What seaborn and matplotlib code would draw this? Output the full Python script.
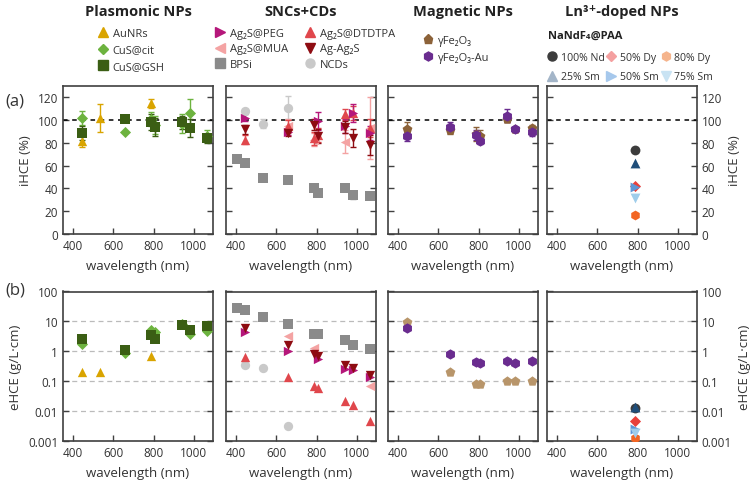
import matplotlib
matplotlib.use("Agg")
import pandas as pd
import matplotlib.pyplot as plt
from matplotlib.lines import Line2D
import seaborn as sns

# ---- values ----
# Plasmonic NPs
aunr_wl = [445, 532, 785]
aunr_ihce = [82, 102, 115]
aunr_err = [6, 12, 4]
aunr_ehce = [0.2, 0.2, 0.69]

cuscit_wl = [445, 660, 785, 808, 940, 980, 1064]
cuscit_ihce = [102, 90, 101, 96, 97, 106, 86]
cuscit_err = [6, 0, 6, 8, 8, 13, 5]
cuscit_ehce = [1.7, 0.9, 5.0, 4.3, 8.5, 3.7, 4.8]

cusgsh_wl = [445, 660, 785, 808, 940, 980, 1064]
cusgsh_ihce = [89, 101, 98, 94, 98, 93, 84]
cusgsh_err = [6, 0, 7, 8, 6, 8, 4]
cusgsh_ehce = [2.5, 1.1, 3.6, 2.6, 7.6, 5.0, 7.2]

# SNCs + CDs
peg_wl = [445, 660, 808, 940, 980, 1064]
peg_ihce = [102, 90, 99, 95, 106, 89]
peg_err = [3, 3, 8, 6, 8, 6]
peg_ehce = [4.4, 1.0, 0.54, 0.26, 0.23, 0.14]

mua_wl = [660, 785, 940, 1064]
mua_ihce = [95, 83, 81, 93]
mua_err = [6, 6, 10, 27]
mua_wl_b = [660, 785, 1064]
mua_ehce = [3.2, 1.3, 0.069]

dtdtpa_wl = [445, 660, 785, 808, 940, 980, 1064]
dtdtpa_ihce = [83, 95, 84, 87, 105, 106, 93]
dtdtpa_err = [4, 5, 6, 6, 5, 6, 8]
dtdtpa_ehce = [0.64, 0.14, 0.07, 0.06, 0.021, 0.016, 0.0045]

agag2s_wl = [445, 660, 785, 808, 940, 980, 1064]
agag2s_ihce = [92, 89, 96, 86, 94, 84, 78]
agag2s_err = [4, 3, 5, 6, 5, 8, 9]
agag2s_ehce = [6.0, 1.66, 0.8, 0.72, 0.34, 0.28, 0.16]

bpsi_wl = [405, 445, 532, 660, 785, 808, 940, 980, 1064]
bpsi_ihce = [66, 62, 49, 47, 40, 36, 40, 34, 33]
bpsi_err = [0, 0, 1, 0, 1, 1, 1, 3, 0]
bpsi_ehce = [29, 23.5, 14, 8.4, 3.9, 3.8, 2.45, 1.67, 1.22]

ncd_wl = [445, 532, 660]
ncd_ihce = [108, 97, 111]
ncd_err = [2, 4, 10]
ncd_ehce = [0.355, 0.275, 0.0032]

# Magnetic NPs
fe_wl = [445, 660, 785, 808, 940, 980, 1064]
fe_ihce = [92, 91, 88, 86, 101, 92, 93]
fe_err = [6, 3, 6, 5, 3, 2, 3]
fe_ehce = [9.5, 0.21, 0.081, 0.082, 0.098, 0.098, 0.1]

feau_wl = [445, 660, 785, 808, 940, 980, 1064]
feau_ihce = [86, 94, 87, 82, 104, 92, 90]
feau_err = [4, 4, 4, 3, 6, 2, 4]
feau_ehce = [6.2, 0.83, 0.44, 0.41, 0.47, 0.42, 0.47]

# Ln3+-doped NPs (NaNdF4@PAA), all at one wavelength
ln_labels = ["100% Nd", "50% Dy", "80% Dy", "25% Sm", "50% Sm", "75% Sm"]
ln_wl = 785
ln_ihce = [74, 42, 17, 62, 41, 32]
ln_ehce = [0.013, 0.0045, 0.0013, 0.0135, 0.0025, 0.0019]

titles = ["Plasmonic NPs", "SNCs+CDs", "Magnetic NPs", "Ln³⁺-doped NPs"]
xticks = [400, 600, 800, 1000]
log_ticks = [0.001, 0.01, 0.1, 1, 10, 100]
log_labels = ["0.001", "0.01", "0.1", "1", "10", "100"]

# ---- style ----
sns.set_style("ticks")
plt.rcParams["font.family"] = ["Open Sans", "DejaVu Sans"]
plt.rcParams["text.color"] = "#333333"
plt.rcParams["axes.labelcolor"] = "#333333"

fig = plt.figure(figsize=(7.5, 4.85), dpi=100)
lefts = [63, 226, 388, 547]
axes_a, axes_b = [], []
for l in lefts:
    axes_a.append(fig.add_axes([l / 750, 250 / 485, 150 / 750, 148 / 485]))
    axes_b.append(fig.add_axes([l / 750, 43 / 485, 150 / 750, 149.5 / 485]))


def series(col, label, wl, ihce, err, ehce, marker, color, size=45,
           wl_b=None, color_b=None):
    ax_a, ax_b = axes_a[col], axes_b[col]
    ax_a.errorbar(wl, ihce, yerr=err, fmt="none", ecolor=color,
                  elinewidth=1, capsize=2.5, capthick=1, zorder=2)
    sns.scatterplot(x=wl, y=ihce, ax=ax_a, marker=marker, color=color,
                    s=size, linewidth=0, zorder=3, legend=False)
    sns.scatterplot(x=wl if wl_b is None else wl_b, y=ehce, ax=ax_b,
                    marker=marker, color=color if color_b is None else color_b,
                    s=size, linewidth=0, zorder=3, legend=False)
    return Line2D([], [], ls="none", marker=marker, color=color,
                  markersize=6.5 if marker != "D" else 5.5, label=label)


h1 = [
    series(0, "AuNRs", aunr_wl, aunr_ihce, aunr_err, aunr_ehce, "^", "#D9A400"),
    series(0, "CuS@cit", cuscit_wl, cuscit_ihce, cuscit_err, cuscit_ehce, "D", "#6DB33F", 32),
    series(0, "CuS@GSH", cusgsh_wl, cusgsh_ihce, cusgsh_err, cusgsh_ehce, "s", "#3B5E14", 42),
]

h_bpsi = series(1, "BPSi", bpsi_wl, bpsi_ihce, bpsi_err, bpsi_ehce, "s", "#8A8A8A", 42)
h_ncd = series(1, "NCDs", ncd_wl, ncd_ihce, ncd_err, ncd_ehce, "o", "#C9C9C9")
h_mua = series(1, "Ag₂S@MUA", mua_wl, mua_ihce, mua_err, mua_ehce, "<", "#F4A3A3",
               wl_b=mua_wl_b)
h_dtd = series(1, "Ag₂S@DTDTPA", dtdtpa_wl, dtdtpa_ihce, dtdtpa_err, dtdtpa_ehce, "^", "#E0474C")
h_peg = series(1, "Ag₂S@PEG", peg_wl, peg_ihce, peg_err, peg_ehce, ">", "#B5177A")
h_ag = series(1, "Ag-Ag₂S", agag2s_wl, agag2s_ihce, agag2s_err, agag2s_ehce, "v", "#8E0C12")
h2 = [h_peg, h_mua, h_bpsi, h_dtd, h_ag, h_ncd]

h3 = [
    series(2, "γFe₂O₃", fe_wl, fe_ihce, fe_err, fe_ehce, "p", "#8C6239", 55,
           color_b="#B8956A"),
    series(2, "γFe₂O₃-Au", feau_wl, feau_ihce, feau_err, feau_ehce, "h", "#6A2C8F", 55),
]

ln_markers = ["o", "D", "h", "^", ">", "v"]
ln_colors = ["#3C3C3C", "#E8413C", "#F26522", "#1F4E7A", "#5C95D6", "#9FCDEB"]
ln_legend_colors = ["#3C3C3C", "#F4A0A0", "#F5B48C", "#A3B5C8", "#A6C8EC", "#C9E3F3"]
ln_df = pd.DataFrame({"label": ln_labels, "wl": ln_wl,
                      "ihce": ln_ihce, "ehce": ln_ehce})
h4 = {}
for lab, m, c, lc in zip(ln_labels, ln_markers, ln_colors, ln_legend_colors):
    sub = ln_df[ln_df["label"] == lab]
    sz = 32 if m == "D" else 50
    sns.scatterplot(data=sub, x="wl", y="ihce", ax=axes_a[3], marker=m,
                    color=c, s=sz, linewidth=0, zorder=3, legend=False)
    sns.scatterplot(data=sub, x="wl", y="ehce", ax=axes_b[3], marker=m,
                    color=c, s=sz, linewidth=0, zorder=3, legend=False)
    h4[lab] = Line2D([], [], ls="none", marker=m, color=lc,
                     markersize=6.5 if m != "D" else 5.5, label=lab)

# ---- axes formatting ----
spine_c = "#404040"
for i, (ax_a, ax_b) in enumerate(zip(axes_a, axes_b)):
    for ax in (ax_a, ax_b):
        ax.set_xlim(350, 1095)
        ax.set_xticks(xticks)
        ax.set_xlabel("wavelength (nm)", fontsize=9.5, labelpad=5)
        for s in ax.spines.values():
            s.set_color(spine_c)
            s.set_linewidth(1.2)
        ax.tick_params(direction="in", length=4, width=1, color=spine_c,
                       left=True, right=True, labelsize=8.5,
                       labelcolor="#333333", labelleft=(i == 0),
                       labelright=(i == 3))
        ax.set_ylabel("")
    ax_a.set_ylim(0, 130)
    ax_a.set_yticks([0, 20, 40, 60, 80, 100, 120])
    ax_a.axhline(100, color="black", ls=(0, (3, 3)), lw=1.1, zorder=1)
    ax_b.set_yscale("log")
    ax_b.set_ylim(0.001, 100)
    ax_b.set_yticks(log_ticks)
    ax_b.set_yticklabels(log_labels)
    ax_b.minorticks_off()
    ax_b.yaxis.grid(True, color="#BBBBBB", ls=(0, (4, 3)), lw=0.9)
    ax_b.set_axisbelow(True)
    fig.text((lefts[i] + 75) / 750, 1 - 12 / 485, titles[i], ha="center",
             va="center", fontsize=10.5, weight="bold", color="#222222")

axes_a[0].set_ylabel("iHCE (%)", fontsize=9.5)
axes_b[0].set_ylabel("eHCE (g/L·cm)", fontsize=9.5)
for ax, lab in ((axes_a[3], "iHCE (%)"), (axes_b[3], "eHCE (g/L·cm)")):
    ax.yaxis.set_label_position("right")
    ax.set_ylabel(lab, fontsize=9.5, rotation=90, labelpad=4)

fig.text(5 / 750, 1 - 101 / 485, "(a)", fontsize=12, va="center")
fig.text(5 / 750, 1 - 291 / 485, "(b)", fontsize=12, va="center")

# ---- legends ----
leg_kw = dict(loc="upper left", frameon=False, fontsize=8, borderpad=0,
              borderaxespad=0, handlelength=1, handletextpad=0.4)
fig.legend(handles=h1, labelspacing=0.5,
           bbox_to_anchor=(97 / 750, 1 - 29 / 485), **leg_kw)
fig.legend(handles=h2, ncol=2, columnspacing=1.5, labelspacing=0.4,
           bbox_to_anchor=(214 / 750, 1 - 29 / 485), **leg_kw)
fig.legend(handles=h3, labelspacing=0.55,
           bbox_to_anchor=(422 / 750, 1 - 36 / 485), **leg_kw)
fig.text(548 / 750, 1 - 36 / 485, "NaNdF₄@PAA", fontsize=8, weight="bold",
         va="center", color="#222222")
ln_order = ["100% Nd", "25% Sm", "50% Dy", "50% Sm", "80% Dy", "75% Sm"]
ln_kw = dict(leg_kw, fontsize=7.6, handletextpad=0.3)
fig.legend(handles=[h4[k] for k in ln_order], ncol=3, columnspacing=0.15,
           labelspacing=0.8, bbox_to_anchor=(547 / 750, 1 - 53 / 485),
           **ln_kw)

fig.savefig("out.png", dpi=100)
